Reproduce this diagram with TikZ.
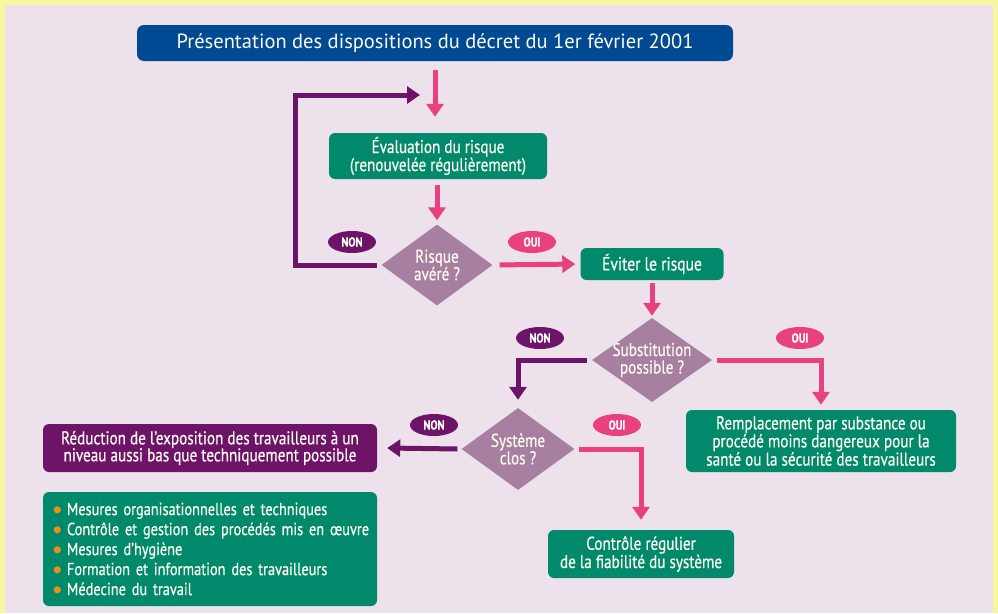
\documentclass[tikz,border=0pt]{standalone}
\usepackage{fontspec}
\setmainfont[FakeStretch=0.82,FakeBold=0.6]{PT Sans}
\newfontfamily\titlefont{PT Sans}
\usetikzlibrary{arrows.meta,shapes.geometric,calc}
\definecolor{yel}{HTML}{F7F79F}
\definecolor{bgc}{HTML}{EDE2EC}
\definecolor{blu}{HTML}{004A93}
\definecolor{grn}{HTML}{00896A}
\definecolor{pur}{HTML}{6E1468}
\definecolor{pnk}{HTML}{E9407E}
\definecolor{mauve}{HTML}{A77FA1}
\definecolor{orng}{HTML}{F08C1E}
\definecolor{txt}{HTML}{FDFBF0}
\newcommand{\obul}{\hspace*{24pt}}
\begin{document}
\begin{tikzpicture}[x=1pt,y=-1pt,
  box/.style={rounded corners=6pt, text=txt, align=center, inner sep=0pt, font=\fontsize{18.5}{17}\selectfont},
  gbox/.style={box, fill=grn},
  dia/.style={diamond, fill=mauve, inner sep=0pt},
  dtext/.style={text=txt, align=center, font=\fontsize{18.5}{17.5}\selectfont},
  arr/.style={line width=5pt, -{Triangle[width=17pt,length=13pt]}},
  parr/.style={arr, draw=pnk},
  varr/.style={arr, draw=pur},
  tag/.style={ellipse, inner sep=0pt, minimum width=48pt, minimum height=22pt, text=white, font=\bfseries\fontsize{13}{13}\selectfont}]
\useasboundingbox (0,0) rectangle (998,613);
\fill[yel] (0,0) rectangle (998,613);
\fill[bgc] (5,5) rectangle (993,613);

% nodes
\node[box, fill=blu, minimum width=596pt, minimum height=36pt, rounded corners=7pt, font=\titlefont\fontsize{20.5}{22}\selectfont] (title) at (435,43) {Présentation des dispositions du décret du 1er février 2001};
\node[gbox, minimum width=218pt, minimum height=46pt] (eval) at (438,156) {Évaluation du risque\\(renouvelée régulièrement)};
\node[dia, minimum width=111pt, minimum height=81pt, label={[dtext]center:Risque\\avéré ?}] (risque) at (437,265) {};
\node[gbox, minimum width=143pt, minimum height=32pt, font=\fontsize{19}{18}\selectfont] (eviter) at (652,264) {Éviter le risque};
\node[dia, minimum width=120pt, minimum height=84pt, label={[dtext]center:Substitution\\possible ?}] (subst) at (652,360) {};
\node[gbox, minimum width=270pt, minimum height=62pt] (rempl) at (821,441) {Remplacement par substance ou\\procédé moins dangereux pour la\\santé ou la sécurité des travailleurs};
\node[dia, minimum width=113pt, minimum height=82pt, label={[dtext]center:Système\\clos ?}] (clos) at (518,449) {};
\node[box, fill=pur, minimum width=334pt, minimum height=48pt] (reduc) at (210,448) {Réduction de l’exposition des travailleurs à un\\niveau aussi bas que techniquement possible};
\node[gbox, minimum width=186pt, minimum height=48pt] (controle) at (641,554) {Contrôle régulier\\de la fiabilité du système};
\node[box, fill=grn, align=left, text width=334pt, inner xsep=0pt, minimum height=114pt, font=\fontsize{17.5}{20}\selectfont] (mesures) at (210,549) {%
\obul Mesures organisationnelles et techniques\\
\obul Contrôle et gestion des procédés mis en œuvre\\
\obul Mesures d’hygiène\\
\obul Formation et information des travailleurs\\
\obul Médecine du travail};
\foreach \k in {0,...,4}
  \fill[orng] ($(mesures.north west)+(14.5,18+20*\k)$) circle (3.6pt);

% tags
\node[tag, fill=pur] (non1) at (352,242) {NON};
\node[tag, fill=pnk] (oui1) at (532,242) {OUI};
\node[tag, fill=pur] (non2) at (540,338) {NON};
\node[tag, fill=pnk] (oui2) at (800,338) {OUI};
\node[tag, fill=pur] (non3) at (434,425) {NON};
\node[tag, fill=pnk] (oui3) at (617,425) {OUI};

% connectors
\coordinate (loopcorner) at (295,95);
\coordinate (loopend) at (420,95);
\draw[parr, shorten <=9pt, shorten >=16pt] (title.south) -- (title.south |- eval.north);
\draw[parr, shorten <=6pt, shorten >=4pt] (eval.south -| risque.north) -- (risque.north);
\draw[varr] ([xshift=-4pt]risque.west) -| (loopcorner) -- (loopend);
\draw[parr, shorten <=7pt, shorten >=5pt] (risque.east) -- (eviter.west);
\draw[parr, shorten <=3pt, shorten >=2pt] (eviter.south) -- (subst.north);
\draw[varr] ([xshift=-5pt]subst.west) -| ([yshift=8pt]clos.north);
\draw[parr] ([xshift=5pt]subst.east) -| ([yshift=5pt]rempl.north);
\draw[varr] ([xshift=-4pt]clos.west) -- ([xshift=10pt]reduc.east);
\draw[parr] ([xshift=4pt]clos.east) -| ([yshift=10pt]controle.north);
\end{tikzpicture}
\end{document}
